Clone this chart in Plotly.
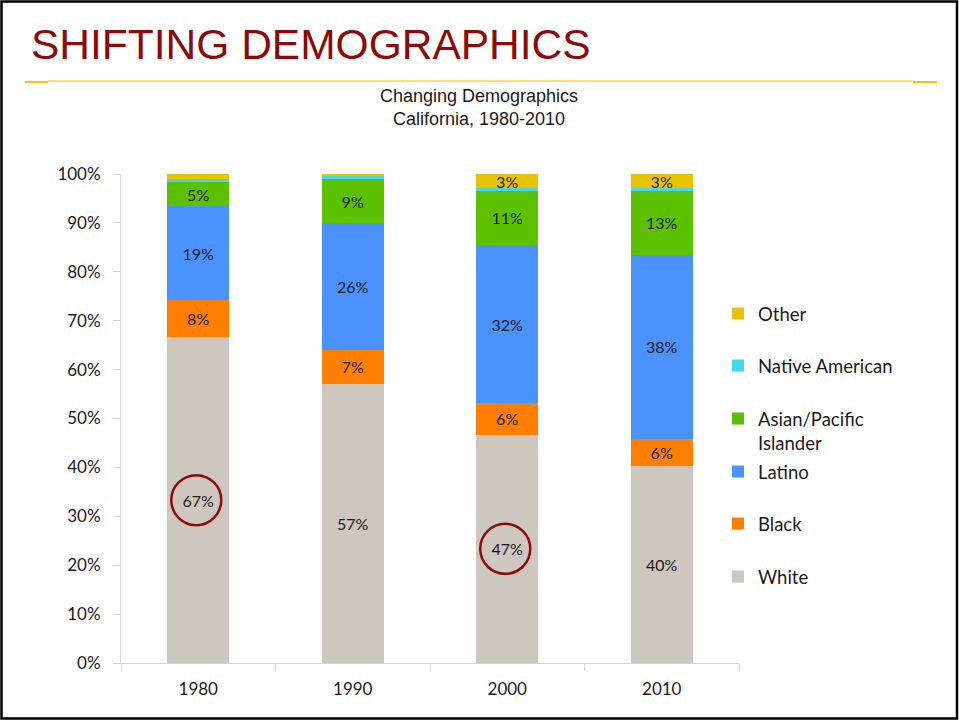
import plotly.graph_objects as go

# ---- data (percent of population) ----
years = ["1980", "1990", "2000", "2010"]
white = [66.6, 57.1, 46.7, 40.2]
black = [7.6, 6.9, 6.4, 5.6]
latino = [19.2, 25.9, 32.4, 37.7]
asian = [5.0, 9.1, 11.2, 13.2]
native = [0.6, 0.7, 0.4, 0.4]
other = [1.0, 0.3, 2.9, 2.9]
series_names = ["White", "Black", "Latino", "Asian/Pacific<br>Islander", "Native American", "Other"]
circled_years = ["1980", "2000"]
y_ticks = [0, 10, 20, 30, 40, 50, 60, 70, 80, 90, 100]
y_tick_labels = [f"{v}%" for v in y_ticks]

series_values = [white, black, latino, asian, native, other]
colors = ["#CEC7C0", "#FF7F00", "#4A93FF", "#5CC100", "#40D9EE", "#E8C400"]
show_labels = [True, True, True, True, False, True]
LABEL_MIN = 2.5

FONT = "Lato, 'Open Sans', sans-serif"
W, H = 959, 721
PL, PR, PT, PB = 121, 739, 174, 663


def px_x(px):
    return (px - PL) / (PR - PL)


def px_y(py):
    return (PB - py) / (PB - PT)


legend_ids = ["legend", "legend2", "legend3", "legend4", "legend5", "legend6"]
legend_centers = [577, 524, 472, 431, 366, 314]

fig = go.Figure()
for name, vals, col, show, lg in zip(series_names, series_values, colors, show_labels, legend_ids):
    txt = [f"{v:.0f}%" if (show and v >= LABEL_MIN) else "" for v in vals]
    fig.add_trace(go.Bar(
        x=years, y=vals, name=name,
        marker=dict(color=col, line=dict(width=0)),
        text=txt, textposition="inside", insidetextanchor="middle", textangle=0,
        textfont=dict(family=FONT, size=16, color="#1a1a1a"),
        legend=lg, hoverinfo="skip",
    ))

legend_layouts = {}
for lg, cy, name in zip(legend_ids, legend_centers, series_names):
    legend_layouts[lg] = dict(
        x=px_x(718), xanchor="left", y=px_y(cy), yanchor="middle",
        font=dict(family=FONT, size=18.5, color="#1a1a1a"),
        bgcolor="rgba(0,0,0,0)", borderwidth=0, itemwidth=30,
        valign="top",
    )

shapes = []
# red circles around selected White labels
for yr in circled_years:
    i = years.index(yr)
    shapes.append(dict(
        type="circle", xref="x", yref="y", xsizemode="pixel", ysizemode="pixel",
        xanchor=i, yanchor=white[i] / 2, x0=-27, x1=23, y0=-25, y1=25,
        line=dict(color="#8B0A0A", width=2.5), fillcolor="rgba(0,0,0,0)",
    ))
# gold rule under slide title
shapes.append(dict(type="line", xref="paper", yref="paper",
                   x0=px_x(48), x1=px_x(913), y0=px_y(81), y1=px_y(81),
                   line=dict(color="#FFD34D", width=1.5)))
for a, b in [(25, 48), (913, 937)]:
    shapes.append(dict(type="line", xref="paper", yref="paper",
                       x0=px_x(a), x1=px_x(b), y0=px_y(82), y1=px_y(82),
                       line=dict(color="#FFC000", width=2)))
# slide border
shapes.append(dict(type="rect", xref="paper", yref="paper",
                   x0=px_x(1.5), x1=px_x(957), y0=px_y(718.5), y1=px_y(1.5),
                   line=dict(color="#000000", width=2.5), fillcolor="rgba(0,0,0,0)"))

annotations = [
    dict(text="SHIFTING DEMOGRAPHICS", xref="paper", yref="paper",
         x=px_x(29), y=px_y(45), xanchor="left", yanchor="middle", showarrow=False,
         font=dict(family="'Liberation Sans', Arial, sans-serif", size=42.5, color="#8B0A0A")),
    dict(text="Changing Demographics<br>California, 1980-2010", xref="paper", yref="paper",
         x=px_x(479), y=px_y(107), xanchor="center", yanchor="middle", showarrow=False,
         font=dict(family="'Liberation Sans', Arial, sans-serif", size=18, color="#1a1a1a")),
]

fig.update_layout(
    width=W, height=H,
    margin=dict(l=PL, r=W - PR, t=PT, b=H - PB, pad=0),
    barmode="stack", bargap=0.6,
    uniformtext=dict(minsize=16, mode="show"),
    paper_bgcolor="white", plot_bgcolor="white",
    showlegend=True,
    shapes=shapes, annotations=annotations,
    font=dict(family=FONT, color="#1a1a1a"),
    xaxis=dict(
        type="category", range=[-0.5, 3.5], showgrid=False, zeroline=False,
        showline=True, linecolor="#D4D4D4", linewidth=1,
        ticks="outside", tickson="boundaries", ticklen=7, tickcolor="#D4D4D4",
        tickfont=dict(family=FONT, size=17, color="#1a1a1a"), ticklabelstandoff=11,
    ),
    yaxis=dict(
        range=[0, 100], tickmode="array", tickvals=y_ticks, ticktext=y_tick_labels,
        showgrid=False, zeroline=False,
        showline=True, linecolor="#D4D4D4", linewidth=1,
        ticks="outside", ticklen=7, tickcolor="#D4D4D4",
        tickfont=dict(family=FONT, size=17, color="#1a1a1a"), ticklabelstandoff=9,
    ),
    **legend_layouts,
)

fig.write_html("out.html", config={"displayModeBar": False},
               post_script="document.body.style.margin='0';")
